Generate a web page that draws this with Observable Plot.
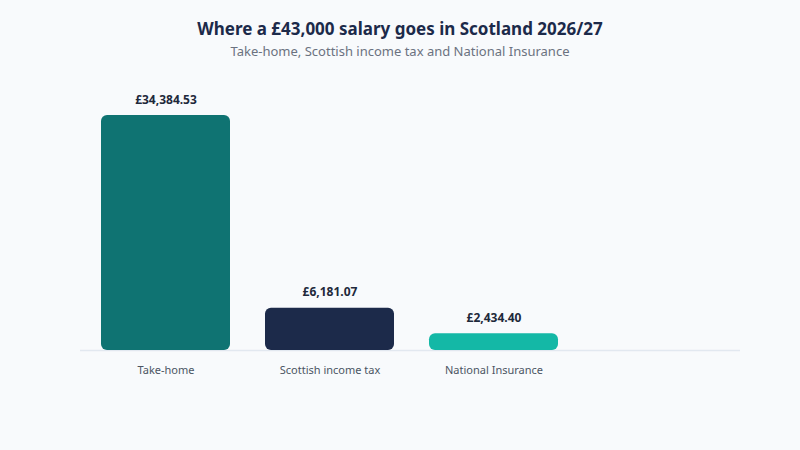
<!DOCTYPE html>
<html><head><meta charset="utf-8">
<script src="https://cdn.jsdelivr.net/npm/d3@7"></script>
<script src="https://cdn.jsdelivr.net/npm/@observablehq/plot@0.6"></script>
<style>
html,body{margin:0;padding:0;background:#f8fafc;}
#wrap{width:800px;height:450px;background:#f8fafc;font-family:"Noto Sans",sans-serif;overflow:hidden;}
#hdr{height:70px;box-sizing:border-box;padding-top:18px;text-align:center;}
#hdr .t{font-size:17px;line-height:22px;font-weight:700;color:#1c2a4a;}
#hdr .s{font-size:13px;line-height:18px;margin-top:2px;color:#6b7280;}
#chart svg{display:block;}
</style></head>
<body>
<div id="wrap">
  <div id="hdr">
    <div class="t">Where a £43,000 salary goes in Scotland 2026/27</div>
    <div class="s">Take-home, Scottish income tax and National Insurance</div>
  </div>
  <div id="chart"></div>
</div>
<script>
const categories = ["Take-home", "Scottish income tax", "National Insurance"];
const amounts = [34384.53, 6181.07, 2434.40];
const labels = ["£34,384.53", "£6,181.07", "£2,434.40"];
const colors = ["#0f7372", "#1c2a4a", "#14b8a6"];

const data = categories.map((c, i) => ({category: c, amount: amounts[i], label: labels[i], color: colors[i]}));

const chart = Plot.plot({
  width: 800,
  height: 380,
  marginTop: 45,
  marginBottom: 100,
  marginLeft: 80,
  marginRight: 60,
  style: {background: "transparent", fontFamily: "Noto Sans, sans-serif"},
  x: {type: "band", domain: categories, range: [100, 560], paddingInner: 0.2121, paddingOuter: 0, label: null},
  y: {domain: [0, d3.max(amounts)], axis: null},
  marks: [
    Plot.ruleY([0], {stroke: "#e2e8f0", strokeWidth: 1.5}),
    Plot.barY(data, {x: "category", y: "amount", fill: "color", rx: 6}),
    Plot.text(data, {x: "category", y: "amount", text: "label", lineAnchor: "bottom", dy: -12, fontSize: 12, fontWeight: 700, fill: "#1e293b"}),
    Plot.axisX({tickSize: 0, tickPadding: 16, fontSize: 11, color: "#4b5563", label: null})
  ]
});
document.getElementById("chart").appendChild(chart);
</script>
</body></html>
